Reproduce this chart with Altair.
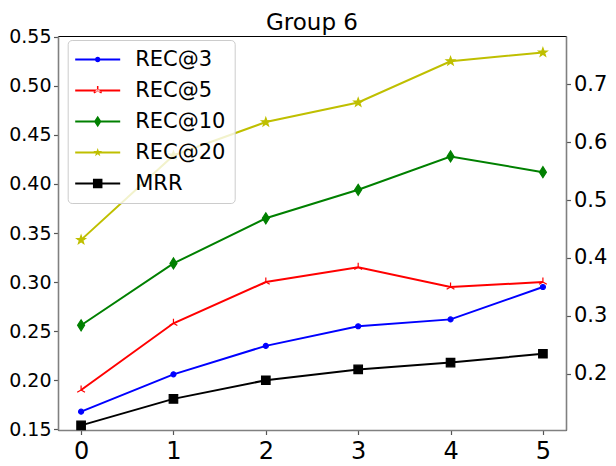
import altair as alt
import pandas as pd

# ---- data ----
x_vals = [0, 1, 2, 3, 4, 5]
series_names = ["REC@3", "REC@5", "REC@10", "REC@20", "MRR"]
rec3 = [0.168, 0.206, 0.235, 0.255, 0.262, 0.295]
rec5 = [0.190, 0.258, 0.300, 0.315, 0.295, 0.300]
rec10 = [0.256, 0.319, 0.365, 0.394, 0.428, 0.412]
rec20 = [0.343, 0.429, 0.463, 0.483, 0.525, 0.534]
mrr = [0.154, 0.181, 0.200, 0.211, 0.218, 0.227]
left_ticks = [0.15, 0.20, 0.25, 0.30, 0.35, 0.40, 0.45, 0.50, 0.55]
right_ticks = [0.2, 0.3, 0.4, 0.5, 0.6, 0.7]
title_text = "Group 6"

# ---- styles ----
colors = ["#0000ff", "#ff0000", "#008000", "#bfbf00", "#000000"]
FONT = "DejaVu Sans"

# marker paths (unit = 5px at size 100)
circle = "M0.5,0A0.5,0.5,0,1,1,-0.5,0A0.5,0.5,0,1,1,0.5,0Z"
tri_line = "M0,0V-0.9M0,0L0.78,0.45M0,0L-0.78,0.45"
tri_fill = ("M0.15,0L0.15,-0.9L-0.15,-0.9L-0.15,0Z"
            "M-0.075,0.13L0.705,0.58L0.855,0.32L0.075,-0.13Z"
            "M-0.075,-0.13L-0.855,0.32L-0.705,0.58L0.075,0.13Z")
diamond = "M0,-1.1L0.7,0L0,1.1L-0.7,0Z"
star = ("M0,-0.9L0.212,-0.291L0.856,-0.278L0.342,0.111L0.529,0.728L0,0.36"
        "L-0.529,0.728L-0.342,0.111L-0.856,-0.278L-0.212,-0.291Z")
square = "M-0.85,-0.85H0.85V0.85H-0.85Z"
marker_paths = [circle, tri_line, diamond, star, square]

seg = "M-4.5,-0.2H4.5V0.2H-4.5Z"
circle_l = "M0.55,0A0.55,0.55,0,1,1,-0.55,0A0.55,0.55,0,1,1,0.55,0Z"
diamond_l = "M0,-1.15L0.75,0L0,1.15L-0.75,0Z"
square_l = "M-0.95,-0.95H0.95V0.95H-0.95Z"
legend_paths = [seg + circle_l, seg + tri_fill, seg + diamond_l, seg + star, seg + square_l]

rows = []
for name, vals in zip(series_names, [rec3, rec5, rec10, rec20, mrr]):
    for xv, v in zip(x_vals, vals):
        rows.append({"x": xv, "value": v, "series": name, "series_l": name})
df = pd.DataFrame(rows)

x_enc = alt.X(
    "x:Q",
    title=None,
    scale=alt.Scale(domain=[-0.25, 5.25], nice=False, zero=False),
    axis=alt.Axis(values=x_vals, format="d", labelFontSize=24, labelPadding=5,
                  tickSize=4.5, labelFlush=False),
)
y_enc = alt.Y(
    "value:Q",
    title=None,
    scale=alt.Scale(domain=[0.1493, 0.5507], nice=False, zero=False),
    axis=alt.Axis(values=left_ticks, format=".2f", labelFontSize=19, labelPadding=2.5,
                  tickSize=4.5, labelFlush=False),
)

base = alt.Chart(df)

lines = base.mark_line(strokeWidth=2).encode(
    x=x_enc,
    y=y_enc,
    color=alt.Color("series:N", scale=alt.Scale(domain=series_names, range=colors), legend=None),
    order=alt.Order("x:Q"),
)

markers = base.mark_point(filled=True, size=100, strokeWidth=1.2, opacity=1).encode(
    x=x_enc,
    y=y_enc,
    shape=alt.Shape("series:N", scale=alt.Scale(domain=series_names, range=marker_paths), legend=None),
    fill=alt.Fill("series:N", scale=alt.Scale(domain=series_names, range=colors), legend=None),
    stroke=alt.Stroke("series:N", scale=alt.Scale(domain=series_names, range=colors), legend=None),
)

leg = alt.Legend(
    orient="none", legendX=9.7, legendY=4, padding=9,
    fillColor="rgba(255,255,255,0.8)", strokeColor="#cccccc", cornerRadius=4,
    labelFont=FONT, labelFontSize=21, labelColor="black",
    symbolSize=100, symbolStrokeWidth=0, symbolOffset=10.5, labelOffset=27,
    rowPadding=9, symbolOpacity=1,
)

legend_layer = base.mark_point(filled=True, size=100, opacity=0).encode(
    x=x_enc,
    y=y_enc,
    shape=alt.Shape("series_l:N", title=None, scale=alt.Scale(domain=series_names, range=legend_paths), legend=leg),
    fill=alt.Fill("series_l:N", title=None, scale=alt.Scale(domain=series_names, range=colors), legend=leg),
)

left_part = alt.layer(lines, markers, legend_layer).resolve_scale(
    shape="independent", fill="independent", stroke="independent", color="independent"
).resolve_legend(shape="independent", fill="independent", stroke="independent", color="independent")

right_axis = alt.Chart(pd.DataFrame({"r": right_ticks})).mark_point(opacity=0).encode(
    y=alt.Y(
        "r:Q",
        title=None,
        scale=alt.Scale(domain=[0.1024, 0.7838], nice=False, zero=False),
        axis=alt.Axis(orient="right", values=right_ticks, format=".1f", labelFontSize=21,
                      labelPadding=3, tickSize=4.5, labelFlush=False),
    )
)

chart = alt.layer(left_part, right_axis).resolve_scale(y="independent").properties(
    width=508,
    height=394,
    title=alt.Title(title_text, fontSize=23, font=FONT, fontWeight="normal", anchor="middle",
                    offset=-7, color="black"),
    autosize=alt.AutoSizeParams(type="none"),
    padding={"left": 50, "top": 28, "right": 42, "bottom": 36},
).configure_axis(
    labelFont=FONT, labelColor="black", grid=False,
    domainColor="#808080", domainWidth=1.6, tickColor="#555555", tickWidth=1.2,
).configure_view(stroke="black", strokeWidth=1)

chart.save("out.html", embed_options={"renderer": "svg", "actions": False})
